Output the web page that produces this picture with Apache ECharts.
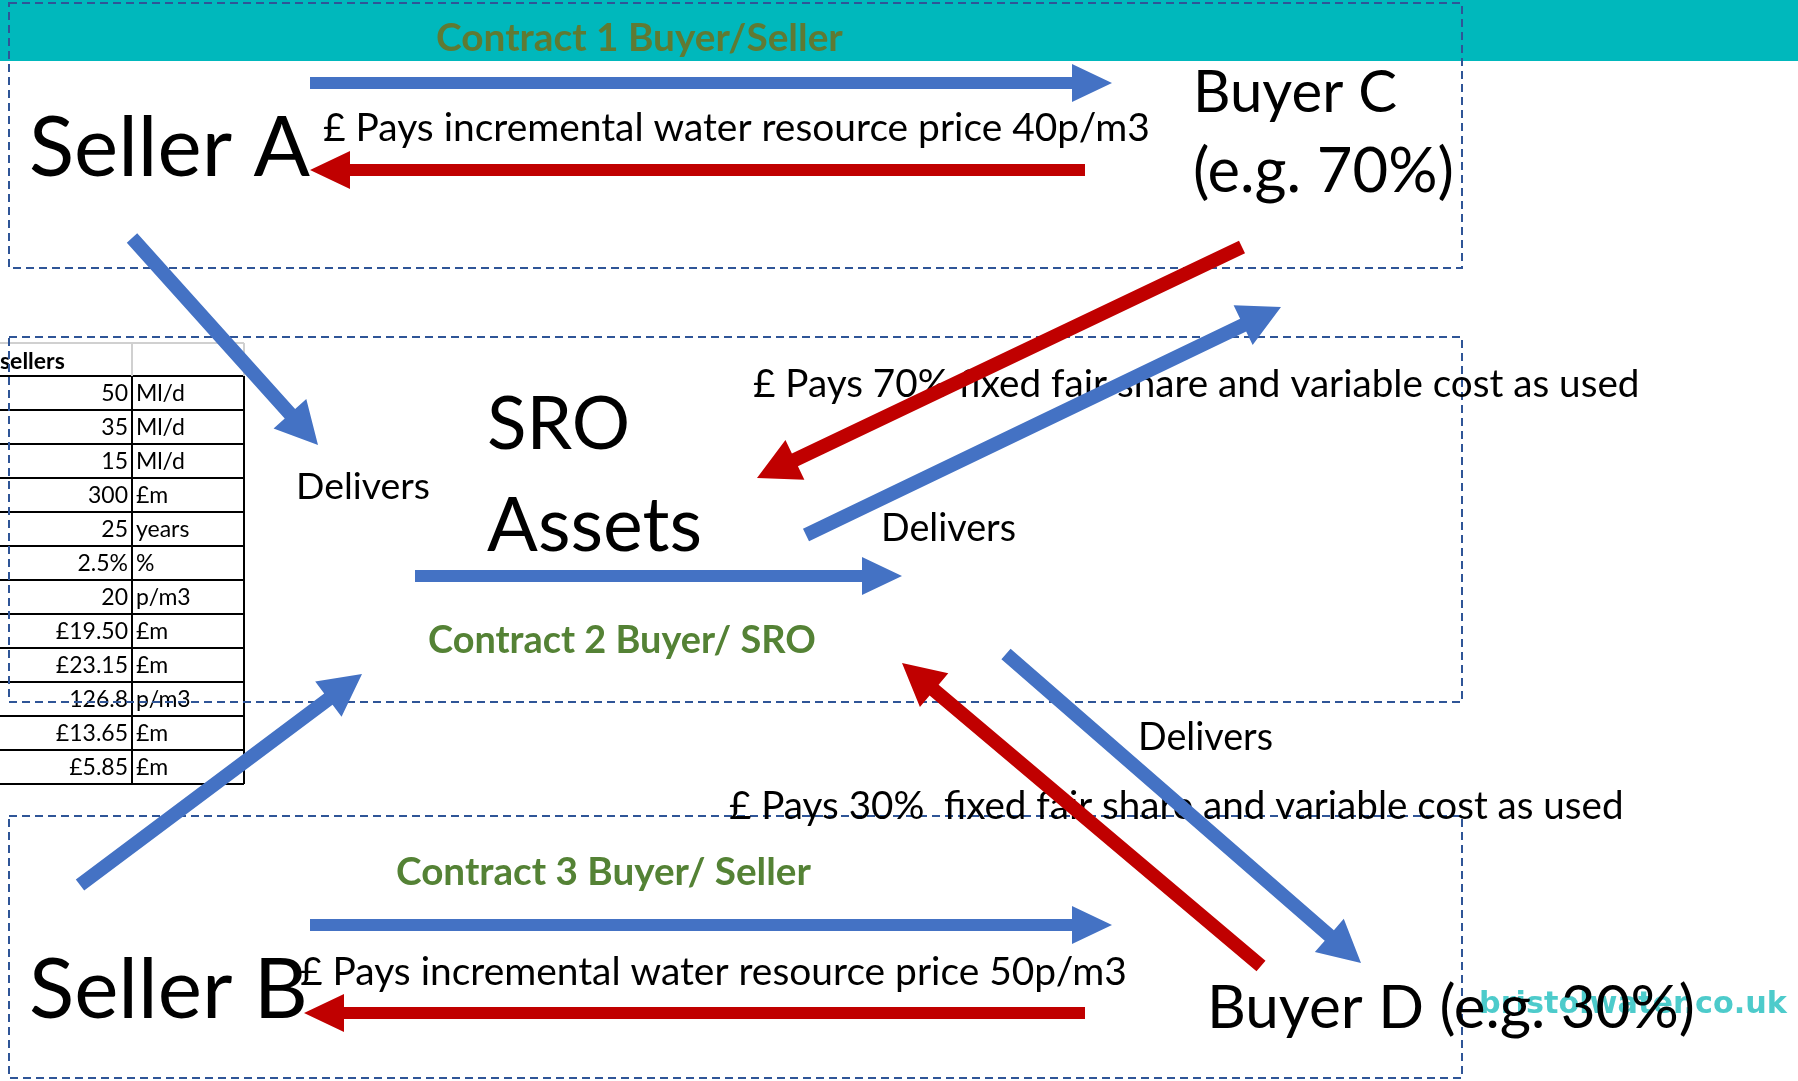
<!DOCTYPE html>
<html>
<head>
<meta charset="utf-8">
<script src="https://cdn.jsdelivr.net/npm/echarts@6/dist/echarts.min.js"></script>
<style>
  html, body { margin: 0; padding: 0; background: #fff; }
  #main { width: 1798px; height: 1081px; }
</style>
</head>
<body>
<div id="main"></div>
<script>
// 画布尺寸 (坐标轴用像素单位)
const W = 1798, H = 1081;

// 表格数据
const tableHeader = 'sellers';
const tableValues = ['50', '35', '15', '300', '25', '2.5%', '20', '£19.50', '£23.15', '126.8', '£13.65', '£5.85'];
const tableUnits = ['Ml/d', 'Ml/d', 'Ml/d', '£m', 'years', '%', 'p/m3', '£m', '£m', 'p/m3', '£m', '£m'];

// 文字
const partyNames = ['Seller A', 'Buyer C', '(e.g. 70%)', 'SRO', 'Assets', 'Seller B', 'Buyer D (e.g. 30%)'];
const contractNames = ['Contract 1 Buyer/Seller', 'Contract 2 Buyer/ SRO', 'Contract 3 Buyer/ Seller'];
const paymentNotes = [
  '£ Pays incremental water resource price 40p/m3',
  '£ Pays 70% fixed fair share and variable cost as used',
  '£ Pays 30%  fixed fair share and variable cost as used',
  '£ Pays incremental water resource price 50p/m3'
];
const deliverNotes = ['Delivers', 'Delivers', 'Delivers'];
const watermark = 'bristolwater.co.uk';

// 箭头: 起点, 终点, 类型 (0 = 供水 蓝, 1 = 付款 红)
const arrowFrom = [[310, 83], [1085, 170], [132, 238], [1242, 247], [806, 535], [415, 576], [80, 885], [1006, 654], [1261, 966], [310, 925], [1085, 1013]];
const arrowTo = [[1112, 83], [310, 170], [318, 445], [757, 478], [1281, 307], [902, 576], [362, 674], [1361, 963], [902, 663], [1112, 925], [304, 1013]];
const arrowKind = [0, 1, 0, 1, 0, 0, 0, 0, 1, 0, 1];

// 虚线框 [x0, y0, x1, y1]
const boxes = [[9, 3, 1462, 268], [9, 337, 1462, 702], [9, 816, 1462, 1078]];

// ---- 样式 / 布局 ----
const BLUE = '#4472C4', RED = '#C00000', TEAL = '#00B8BC';
const GREEN = '#548235', OLIVE = '#5F7A33', DASH = '#2F5597';
const FONT = 'Lato, "Open Sans", sans-serif';

// 每段文字: [文本, 左x, 中心y, 目标宽度, 粗细, 颜色]
const texts = [
  [contractNames[0], 436, 38, 407, 'bold', OLIVE],
  [partyNames[0], 29, 149, 281, 'normal', '#000'],
  [paymentNotes[0], 323, 128, 827, 'normal', '#000'],
  [partyNames[1], 1193, 93, 204, 'normal', '#000'],
  [partyNames[2], 1193, 172, 261, 'normal', '#000'],
  [deliverNotes[0], 296, 487, 134, 'normal', '#000'],
  [partyNames[3], 487, 425, 0, 'normal', '#000'],
  [partyNames[4], 487, 527, 215, 'normal', '#000'],
  [deliverNotes[1], 881, 529, 135, 'normal', '#000'],
  [contractNames[1], 428, 641, 388, 'bold', GREEN],
  [paymentNotes[1], 753, 385, 887, 'normal', '#000'],
  [deliverNotes[2], 1138, 738, 135, 'normal', '#000'],
  [paymentNotes[2], 729, 807, 895, 'normal', '#000'],
  [contractNames[2], 396, 873, 415, 'bold', GREEN],
  [paymentNotes[3], 300, 972, 827, 'normal', '#000'],
  [partyNames[5], 29, 991, 279, 'normal', '#000'],
  [partyNames[6], 1207, 1009, 488, 'normal', '#000']
];

// 按目标宽度求字号
const measureCtx = document.createElement('canvas').getContext('2d');
function fitSize(str, weight, width, family) {
  measureCtx.font = weight + ' 100px ' + (family || FONT);
  return 100 * width / measureCtx.measureText(str).width;
}
const assetsSize = fitSize(partyNames[4], 'normal', 215);
const textSizes = texts.map(t => t[3] ? fitSize(t[0], t[4], t[3]) : assetsSize * 0.97);

function arrowPoints(p1, p2, shaft, headW, headL) {
  const dx = p2[0] - p1[0], dy = p2[1] - p1[1];
  const len = Math.hypot(dx, dy);
  const ux = dx / len, uy = dy / len, nx = -uy, ny = ux;
  const bx = p2[0] - ux * headL, by = p2[1] - uy * headL;
  const s = shaft / 2, h = headW / 2;
  return [
    [p1[0] + nx * s, p1[1] + ny * s],
    [bx + nx * s, by + ny * s],
    [bx + nx * h, by + ny * h],
    [p2[0], p2[1]],
    [bx - nx * h, by - ny * h],
    [bx - nx * s, by - ny * s],
    [p1[0] - nx * s, p1[1] - ny * s]
  ];
}

const chart = echarts.init(document.getElementById('main'), null, { renderer: 'canvas' });

const TBL = { left: -4, split: 132, right: 244, headTop: 343, top: 376, rowH: 34 };
const TBL_FONT = '23px ' + FONT;

const option = {
  animation: false,
  grid: { left: 0, right: 0, top: 0, bottom: 0 },
  xAxis: { type: 'value', min: 0, max: W, show: false },
  yAxis: { type: 'value', min: 0, max: H, inverse: true, show: false },
  series: [
    // 顶部色条
    {
      type: 'custom', z: 1, silent: true,
      data: [[0, 0, W, 61]],
      renderItem: (params, api) => {
        const a = api.coord([api.value(0), api.value(1)]);
        const b = api.coord([api.value(2), api.value(3)]);
        return { type: 'rect', shape: { x: a[0], y: a[1], width: b[0] - a[0], height: b[1] - a[1] }, style: { fill: TEAL } };
      }
    },
    // 表格
    {
      type: 'custom', z: 2, silent: true,
      data: tableValues.map((v, i) => [i]),
      renderItem: (params, api) => {
        const i = api.value(0);
        const y0 = TBL.top + i * TBL.rowH, y1 = y0 + TBL.rowH;
        const c = (x, y) => api.coord([x, y]);
        const line = (p, q, color) => ({ type: 'line', shape: { x1: p[0], y1: p[1], x2: q[0], y2: q[1] }, style: { stroke: color, lineWidth: 2 } });
        const children = [
          line(c(TBL.left, y1), c(TBL.right, y1), '#000'),
          line(c(TBL.split, y0), c(TBL.split, y1), '#000'),
          line(c(TBL.right, y0), c(TBL.right, y1), '#000'),
          { type: 'text', style: { text: tableValues[i], x: c(128, 0)[0], y: c(0, y0 + 18)[1], align: 'right', verticalAlign: 'middle', font: TBL_FONT, fill: '#000' } },
          { type: 'text', style: { text: tableUnits[i], x: c(136, 0)[0], y: c(0, y0 + 18)[1], align: 'left', verticalAlign: 'middle', font: TBL_FONT, fill: '#000' } }
        ];
        if (i === 0) {
          children.push(line(c(TBL.left, y0), c(TBL.right, y0), '#000'));
          children.push(line(c(TBL.left, TBL.headTop), c(TBL.right, TBL.headTop), '#D0D0D0'));
          children.push(line(c(TBL.split, TBL.headTop), c(TBL.split, y0), '#D0D0D0'));
          children.push(line(c(TBL.right, TBL.headTop), c(TBL.right, y0), '#D0D0D0'));
          children.push({ type: 'text', style: { text: tableHeader, x: c(0, 0)[0], y: c(0, TBL.headTop + 19)[1], align: 'left', verticalAlign: 'middle', font: 'bold ' + TBL_FONT, fill: '#000' } });
        }
        return { type: 'group', children };
      }
    },
    // 虚线框
    {
      type: 'custom', z: 3, silent: true,
      data: boxes,
      renderItem: (params, api) => {
        const a = api.coord([api.value(0), api.value(1)]);
        const b = api.coord([api.value(2), api.value(3)]);
        return { type: 'rect', shape: { x: a[0], y: a[1], width: b[0] - a[0], height: b[1] - a[1] }, style: { fill: 'none', stroke: DASH, lineWidth: 2, lineDash: [8, 5] } };
      }
    },
    // 水印
    {
      type: 'custom', z: 4, silent: true,
      data: [[1479, 1005]],
      renderItem: (params, api) => {
        const p = api.coord([api.value(0), api.value(1)]);
        const size = fitSize(watermark, 'bold', 308, '"DejaVu Sans"');
        return { type: 'text', style: { text: watermark, x: p[0], y: p[1], align: 'left', verticalAlign: 'middle', font: 'bold ' + size + 'px "DejaVu Sans"', fill: '#2EC2C2', opacity: 0.85 } };
      }
    },
    // 文字
    {
      type: 'custom', z: 5, silent: true,
      data: texts.map((t, i) => [t[1], t[2], i]),
      renderItem: (params, api) => {
        const i = api.value(2);
        const t = texts[i];
        const p = api.coord([api.value(0), api.value(1)]);
        return { type: 'text', style: { text: t[0], x: p[0], y: p[1], align: 'left', verticalAlign: 'middle', font: t[4] + ' ' + textSizes[i] + 'px ' + FONT, fill: t[5] } };
      }
    },
    // 箭头
    {
      type: 'custom', z: 6, silent: true,
      data: arrowFrom.map((f, i) => [f[0], f[1], arrowTo[i][0], arrowTo[i][1], arrowKind[i]]),
      renderItem: (params, api) => {
        const p1 = api.coord([api.value(0), api.value(1)]);
        const p2 = api.coord([api.value(2), api.value(3)]);
        const horizontal = Math.abs(p1[1] - p2[1]) < 1;
        const pts = horizontal ? arrowPoints(p1, p2, 12, 38, 40) : arrowPoints(p1, p2, 14, 44, 42);
        return { type: 'polygon', shape: { points: pts }, style: { fill: api.value(4) ? RED : BLUE } };
      }
    }
  ]
};

chart.setOption(option);
</script>
</body>
</html>
